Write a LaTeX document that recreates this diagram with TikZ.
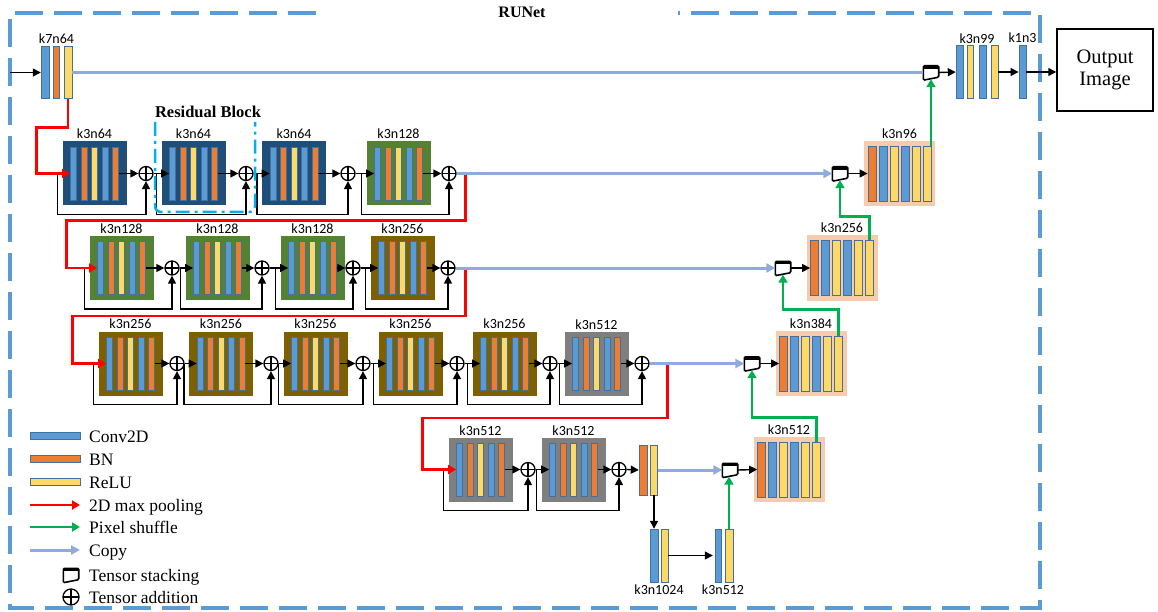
\documentclass[tikz,border=0pt]{standalone}
\usepackage{fontspec}
\setmainfont{Liberation Serif}
\newfontfamily\calfont{Carlito}
\usetikzlibrary{arrows.meta,calc}
\definecolor{cConv}{HTML}{5B9BD5}
\definecolor{cBN}{HTML}{ED7D31}
\definecolor{cReLU}{HTML}{FFD966}
\definecolor{cEdge}{HTML}{41719C}
\definecolor{cNavy}{HTML}{1F4E79}
\definecolor{cLeaf}{HTML}{548235}
\definecolor{cBrown}{HTML}{7F6000}
\definecolor{cGray}{HTML}{7F7F7F}
\definecolor{cPeach}{HTML}{F8CBAD}
\definecolor{cPool}{HTML}{FF0000}
\definecolor{cShuf}{HTML}{00B050}
\definecolor{cCopy}{HTML}{8FAADC}
\definecolor{cCyan}{HTML}{00B0F0}

\begin{document}
\begin{tikzpicture}[x=1pt,y=-1pt,
 bar/.style={draw=cEdge,line width=0.8pt,inner sep=0pt},
 blk/.style={inner sep=0pt,minimum width=64pt,minimum height=64pt},
 dec/.style={fill=cPeach,inner sep=0pt,minimum width=71pt,minimum height=65pt},
 grp/.style={inner sep=0pt},
 lbl/.style={font=\calfont\fontsize{14}{14}\selectfont,inner sep=2pt},
 addn/.style={circle,draw,line width=1.3pt,minimum size=14pt,inner sep=0pt,fill=white,
  path picture={\draw[line width=1.3pt] (path picture bounding box.north) -- (path picture bounding box.south)
   (path picture bounding box.west) -- (path picture bounding box.east);}},
 stk/.style={inner sep=0pt,minimum width=15pt,minimum height=13pt},
 arr/.style={line width=1.4pt,-{Triangle[length=8pt,width=8pt]}},
 pool/.style={draw=cPool,line width=2.8pt,-{Triangle[length=8pt,width=9pt]}},
 shuf/.style={draw=cShuf,line width=2.8pt,-{Triangle[length=8pt,width=9pt]}},
 cpy/.style={draw=cCopy,line width=3pt,-{Triangle[length=9pt,width=9pt]}},
 leg/.style={anchor=base west,inner sep=0pt,font=\fontsize{17.5}{18}\selectfont}]
 \useasboundingbox (0,0) rectangle (1158,612);
 % frame
 \draw[cConv,line width=3.5pt,dash pattern=on 28pt off 11pt]
  (316,13) -- (10,13) -- (10,608) -- (1040,608) -- (1040,13) -- (678,13);
 \node[font=\bfseries\fontsize{16}{16}\selectfont] (title) at (522,12) {RUNet};
 % encoder
 \foreach \n/\x/\y/\c/\lab/\px in {e11/94.5/173.5/cNavy/k3n64/146, e12/193.5/173.5/cNavy/k3n64/246,
   e13/294/173.5/cNavy/k3n64/348, e14/398.5/173.5/cLeaf/k3n128/449,
   e21/121.5/268/cLeaf/k3n128/172, e22/217.5/268/cLeaf/k3n128/262,
   e23/312.5/268/cLeaf/k3n128/353, e24/402.5/268/cBrown/k3n256/448,
   e31/130.5/363.5/cBrown/k3n256/177, e32/221/363.5/cBrown/k3n256/271,
   e33/315.5/363.5/cBrown/k3n256/363, e34/410.5/363.5/cBrown/k3n256/457,
   e35/504.5/363.5/cBrown/k3n256/550, e36/596.5/363.5/cGray/k3n512/642,
   e41/480.5/469.5/cGray/k3n512/528, e42/573.5/469.5/cGray/k3n512/619}{
  \node[blk,fill=\c,label={[lbl]above:\lab}] (\n) at (\x,\y) {};
  \foreach \dx/\bc [count=\i] in {-21/cConv,-10.5/cBN,0/cReLU,10.5/cConv,21/cBN}
   \node[bar,fill=\bc,minimum width=6pt,minimum height=53pt] (\n-\i) at ([xshift=\dx pt]\n.center) {};
  \node[addn] (p\n) at (\px,\y) {};
  \draw[arr] (\n-5.east) -- (p\n.west);
  \draw[arr] ([xshift=-5pt]\n.west) -- ++(0,41) -| (p\n.south);
 }
 \foreach \a/\b in {e11/e12,e12/e13,e13/e14,e21/e22,e22/e23,e23/e24,
   e31/e32,e32/e33,e33/e34,e34/e35,e35/e36,e41/e42}
  \draw[arr] (p\a.east) -- (\b-1.west);
 % input and top branch
 \coordinate (in) at (10,72.5);
 \foreach \n/\x/\w/\c in {k7-1/45/8/cConv,k7-2/56/6/cBN,k7-3/68/8/cReLU}
  \node[bar,fill=\c,minimum width=\w pt,minimum height=52pt] (\n) at (\x,72.5) {};
 \node[grp,minimum width=31pt,minimum height=52pt,label={[lbl]above:k7n64}] (k7) at (56.5,72.5) {};
 \foreach \n/\x/\w/\c in {k99-1/959.5/7/cConv,k99-2/970/6/cReLU,k99-3/982.5/7/cConv,k99-4/994.5/7/cReLU}
  \node[bar,fill=\c,minimum width=\w pt,minimum height=53pt] (\n) at (\x,72) {};
 \node[grp,minimum width=42pt,minimum height=53pt,label={[lbl]above:k3n99}] (k99) at (977,72) {};
 \node[bar,fill=cConv,minimum width=7pt,minimum height=53pt,label={[lbl]above:k1n3}] (k1) at (1022.5,72) {};
 \node[draw,line width=1.5pt,minimum width=96pt,minimum height=82pt,align=center,
  font=\fontsize{20.5}{22}\selectfont] (out) at (1105,70) {Output\\Image};
 % bottom branch
 \foreach \n/\x/\w/\c in {r4-1/643/8/cBN,r4-2/654/7/cReLU}
  \node[bar,fill=\c,minimum width=\w pt,minimum height=50pt] (\n) at (\x,470) {};
 \node[grp,minimum width=19pt,minimum height=50pt] (r4) at (648.5,470) {};
 \foreach \n/\x/\w/\c in {m1-1/654/8/cConv,m1-2/664.5/7/cReLU,m2-1/718/6/cConv,m2-2/729/8/cReLU}
  \node[bar,fill=\c,minimum width=\w pt,minimum height=53pt] (\n) at (\x,555.5) {};
 \node[grp,minimum width=18pt,minimum height=53pt,label={[lbl]below:k3n1024}] (m1) at (659,555.5) {};
 \node[grp,minimum width=20pt,minimum height=53pt,label={[lbl]below:k3n512}] (m2) at (723,555.5) {};
 % decoder
 \foreach \n/\x/\y/\lab in {d1/899.5/173.5/k3n96,d2/842/268/k3n256,d3/811/363.5/k3n384,d4/789/469.5/k3n512}{
  \node[dec,label={[lbl]above:\lab}] (\n) at (\x,\y) {};
  \foreach \dx/\bc [count=\i] in {-27.5/cBN,-16.5/cConv,-5.5/cReLU,5.5/cConv,16.5/cReLU,27.5/cReLU}
   \node[bar,fill=\bc,minimum width=8pt,minimum height=55pt] (\n-\i) at ([xshift=\dx pt]\n.center) {};
 }
 \foreach \s/\x/\y in {s0/931/72.5,s1/840/173.5,s2/783/268,s3/752/363.5,s4/730/470,lgS/71/575}{
  \node[stk] (\s) at (\x,\y) {};
  \draw[line width=1.6pt,rounded corners=1.2pt,fill=white] (\s.north west) -- (\s.north east)
   -- ([yshift=2pt]\s.south east) -- ([yshift=-1pt]\s.south west) -- cycle;
  \fill ([yshift=-0.5pt]\s.north west) rectangle ([yshift=-3pt]\s.north east);
 }
 % connections
 \draw[arr] (in) -- (k7.west);
 \draw[arr] (s0.east) -- (k99.west);
 \draw[arr] (k99.east) -- (k1.west);
 \draw[arr] (k1.east) -- (k1.east -| out.west);
 \draw[arr] (pe42.east) -- (r4.west);
 \draw[arr] (r4-2.south) -- (r4-2.south |- m1.north);
 \draw[arr] (m1.east) -- (m2.west);
 \draw[arr] (s1.east) -- (d1-1.west);
 \draw[arr] (s2.east) -- (d2-1.west);
 \draw[arr] (s3.east) -- (d3-1.west);
 \draw[arr] (s4.east) -- (d4-1.west);
 \draw[pool] (k7-3.south) -- ++(0,28.5) -| ($(e11.west)+(-25.5,0)$) -- (e11-1.west);
 \draw[pool] (pe14.east) -- ++(9,0) -- ++(0,47) -| ($(e21.west)+(-22.5,0)$) -- (e21-1.west);
 \draw[pool] (pe24.east) -- ++(10,0) -- ++(0,48) -| ($(e31.west)+(-25.5,0)$) -- (e31-1.west);
 \draw[pool] (pe36.east) -- ++(18,0) -- ++(0,54.5) -| ($(e41.west)+(-25.5,0)$) -- (e41-1.west);
 \draw[cpy,-] (k7.east) -- (s0.west);
 \draw[cpy] (pe14.east) -- (s1.west);
 \draw[cpy] (pe24.east) -- (s2.west);
 \draw[cpy] (pe36.east) -- (s3.west);
 \draw[cpy] (r4.east) -- (s4.west);
 \draw[shuf] (s0.south |- d1-6.north) -- (s0.south);
 \draw[shuf] (d2-6.north) -- ++(0,-23.5) -| (s1.south);
 \draw[shuf] (d3-6.north) -- ++(0,-26) -| (s2.south);
 \draw[shuf] (d4-6.north) -- ++(0,-24) -| (s3.south);
 \draw[shuf] (m2-2.north) -- (m2-2.north |- s4.south);
 % residual block
 \node[font=\bfseries\fontsize{16.5}{16.5}\selectfont] (rb) at (208,112) {Residual Block};
 \draw[cCyan,line width=2.5pt,dash pattern=on 14pt off 5pt on 3pt off 5pt,rounded corners=6pt]
  (155,122) -- (155,212) -- (255,212) -- (255,122);
 % legend
 \foreach \c/\y/\lab [count=\i] in {cConv/436/Conv2D,cBN/459/BN,cReLU/482/ReLU}{
  \node[bar,fill=\c,minimum width=50pt,minimum height=7pt] (lb\i) at (55,\y) {};
  \node[leg] (lt\i) at (89,{\y+6}) {\lab};
 }
 \foreach \s/\y/\lab [count=\i] in {pool/505/2D max pooling,shuf/527/Pixel shuffle,cpy/550/Copy}{
  \coordinate (la\i) at (30,\y);
  \node[leg] (lu\i) at (89,{\y+6}) {\lab};
  \draw[\s] (la\i) -- ++(50,0);
 }
 \node[leg] (lt4) at (89,581) {Tensor stacking};
 \node[addn,minimum size=16pt] (lgA) at (71,597) {};
 \node[leg] (lt5) at (89,603) {Tensor addition};
\end{tikzpicture}
\end{document}
